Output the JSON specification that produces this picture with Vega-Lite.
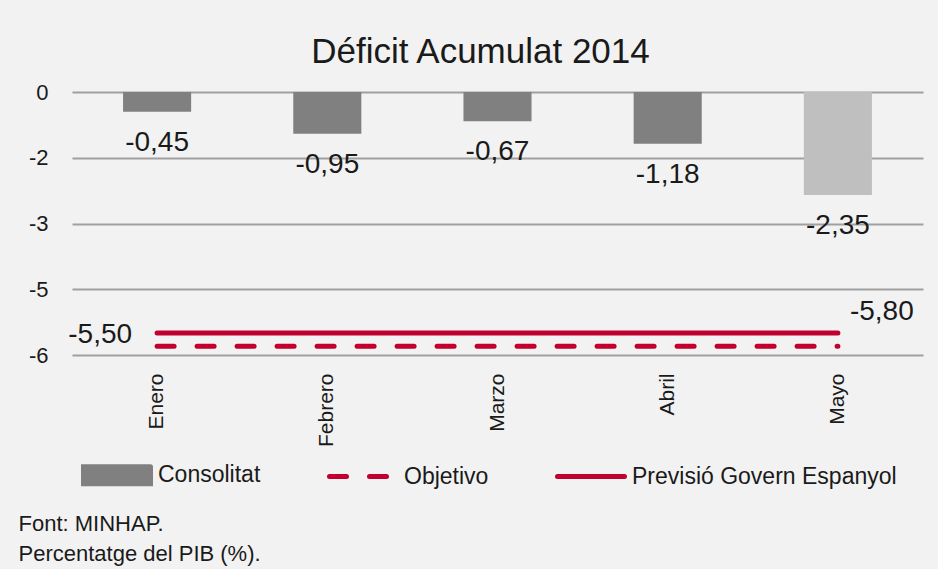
{
  "$schema": "https://vega.github.io/schema/vega-lite/v6.json",
  "autosize": "none",
  "width": 851,
  "height": 263,
  "padding": {"left": 72, "top": 92, "right": 15, "bottom": 214},
  "background": "#f2f2f2",
  "config": {
    "font": "Liberation Sans",
    "locale": {"number": {"decimal": ",", "thousands": ".", "grouping": [3], "currency": ["", " €"], "minus": "-"}},
    "view": {"stroke": null},
    "axis": {"labelColor": "#1a1a1a", "titleColor": "#1a1a1a", "labelFont": "Liberation Sans", "titleFont": "Liberation Sans"},
    "legend": {"labelFont": "Liberation Sans"},
    "text": {"font": "Liberation Sans", "color": "#1a1a1a"}
  },
  "title": {
    "text": "Déficit Acumulat 2014",
    "fontSize": 35,
    "fontWeight": "normal",
    "color": "#1a1a1a",
    "font": "Liberation Sans",
    "anchor": "middle",
    "frame": "group",
    "dx": -17,
    "dy": 46,
    "offset": 29,
    "baseline": "alphabetic"
  },
  "datasets": {
    "bars": [
      {"month": "Enero", "serie": "Consolitat", "value": -0.45},
      {"month": "Febrero", "serie": "Consolitat", "value": -0.95},
      {"month": "Marzo", "serie": "Consolitat", "value": -0.67},
      {"month": "Abril", "serie": "Consolitat", "value": -1.18},
      {"month": "Mayo", "serie": "Consolitat", "value": -2.35}
    ],
    "lines": [
      {"month": "Enero", "serie": "Objetivo", "value": -5.8},
      {"month": "Febrero", "serie": "Objetivo", "value": -5.8},
      {"month": "Marzo", "serie": "Objetivo", "value": -5.8},
      {"month": "Abril", "serie": "Objetivo", "value": -5.8},
      {"month": "Mayo", "serie": "Objetivo", "value": -5.8},
      {"month": "Enero", "serie": "Previsió Govern Espanyol", "value": -5.5},
      {"month": "Febrero", "serie": "Previsió Govern Espanyol", "value": -5.5},
      {"month": "Marzo", "serie": "Previsió Govern Espanyol", "value": -5.5},
      {"month": "Abril", "serie": "Previsió Govern Espanyol", "value": -5.5},
      {"month": "Mayo", "serie": "Previsió Govern Espanyol", "value": -5.5}
    ]
  },
  "encoding": {
    "x": {
      "field": "month",
      "type": "nominal",
      "sort": ["Enero", "Febrero", "Marzo", "Abril", "Mayo"],
      "scale": {"paddingInner": 0.6, "paddingOuter": 0.3},
      "axis": {
        "labelAngle": -90,
        "labelAlign": "right",
        "labelBaseline": "middle",
        "labelFontSize": 21,
        "labelPadding": 18,
        "domain": false,
        "ticks": false,
        "grid": false,
        "title": ["Font: MINHAP.", "Percentatge del PIB (%)."],
        "titleFontSize": 22,
        "titleFontWeight": "normal",
        "titleAnchor": "start",
        "titleAlign": "left",
        "titleAngle": 0,
        "titleX": -54,
        "titleY": 175,
        "titleBaseline": "alphabetic",
        "titleLineHeight": 30
      }
    },
    "y": {
      "field": "value",
      "type": "quantitative",
      "scale": {"domain": [-6, 0], "nice": false, "zero": false},
      "axis": {
        "values": [0, -1.5, -3, -4.5, -6],
        "format": ".0f",
        "labelFontSize": 22,
        "labelPadding": 24,
        "domain": false,
        "ticks": false,
        "gridColor": "#a0a0a0",
        "gridWidth": 2,
        "title": null
      }
    }
  },
  "layer": [
    {
      "data": {"name": "bars"},
      "mark": {"type": "bar"},
      "encoding": {
        "color": {
          "condition": {"test": "datum.month === 'Mayo'", "value": "#bfbfbf"},
          "field": "serie",
          "type": "nominal",
          "scale": {
            "domain": ["Consolitat", "Objetivo", "Previsió Govern Espanyol"],
            "range": ["#808080", "#c1002f", "#c1002f"]
          },
          "legend": {
            "orient": "none",
            "legendX": 9,
            "legendY": 343,
            "direction": "horizontal",
            "title": null,
            "labelFontSize": 23,
            "labelColor": "#1a1a1a",
            "labelOffset": 5,
            "labelLimit": 0,
            "columnPadding": 58,
            "symbolSize": 4489,
            "symbolStrokeWidth": 5,
            "encode": {
              "labels": {
                "update": {
                  "dy": {"signal": "datum.value === 'Consolitat' ? 4 : 0"}
                }
              },
              "symbols": {
                "update": {
                  "shape": {"signal": "datum.value === 'Consolitat' ? 'M-1,-0.134L1,-0.134L1,0.374L-1,0.374Z' : 'stroke'"},
                  "fill": {"signal": "datum.value === 'Consolitat' ? '#808080' : 'transparent'"},
                  "stroke": {"signal": "datum.value === 'Consolitat' ? 'transparent' : '#c1002f'"},
                  "strokeWidth": {"value": 5},
                  "strokeDash": {"signal": "datum.value === 'Objetivo' ? [17, 23] : [1, 0]"},
                  "strokeCap": {"value": "round"},
                  "opacity": {"value": 1}
                }
              }
            }
          }
        }
      }
    },
    {
      "data": {"name": "bars"},
      "mark": {"type": "text", "baseline": "middle", "align": "center", "dy": 31, "fontSize": 28, "color": "#1a1a1a"},
      "encoding": {
        "text": {"field": "value", "type": "quantitative", "format": ".2f"}
      }
    },
    {
      "data": {"name": "lines"},
      "mark": {"type": "line", "strokeWidth": 5, "strokeCap": "round"},
      "encoding": {
        "color": {"field": "serie", "type": "nominal"},
        "strokeDash": {
          "field": "serie",
          "type": "nominal",
          "scale": {"domain": ["Objetivo", "Previsió Govern Espanyol"], "range": [[17, 23], [1, 0]]},
          "legend": null
        }
      }
    },
    {
      "data": {"name": "lines"},
      "transform": [{"filter": "datum.serie === 'Previsió Govern Espanyol' && datum.month === 'Enero'"}],
      "mark": {"type": "text", "baseline": "middle", "align": "right", "dx": -25, "dy": 2, "fontSize": 28, "color": "#1a1a1a"},
      "encoding": {
        "text": {"field": "value", "type": "quantitative", "format": ".2f"}
      }
    },
    {
      "data": {"name": "lines"},
      "transform": [{"filter": "datum.serie === 'Objetivo' && datum.month === 'Mayo'"}],
      "mark": {"type": "text", "baseline": "middle", "align": "left", "dx": 12, "dy": -34, "fontSize": 28, "color": "#1a1a1a"},
      "encoding": {
        "text": {"field": "value", "type": "quantitative", "format": ".2f"}
      }
    }
  ]
}
